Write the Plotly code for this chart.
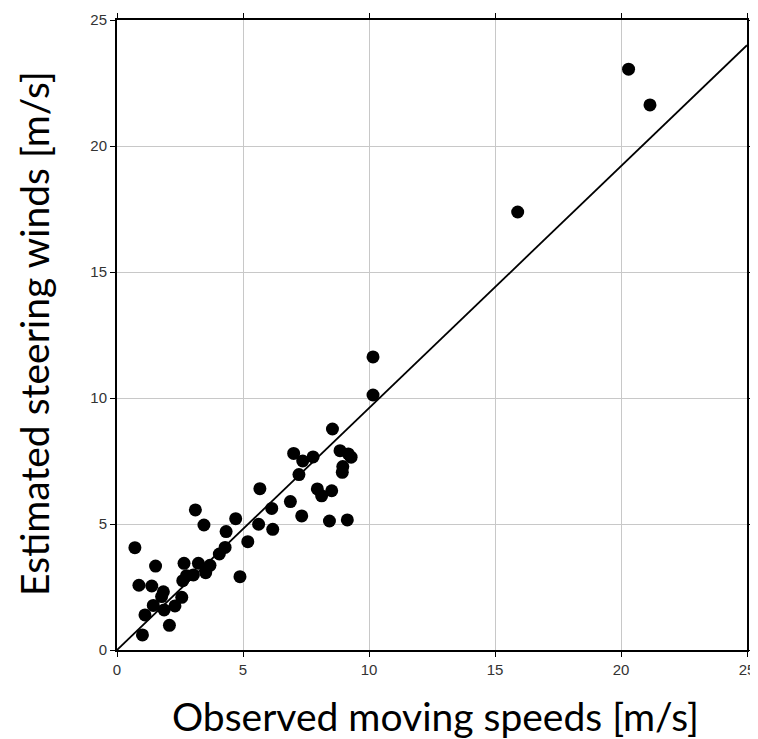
import plotly.graph_objects as go

observed = [0.71, 1.01, 0.87, 1.11, 1.38, 1.53, 1.44, 1.77, 1.84, 1.87, 2.08, 2.30, 2.57, 2.61, 2.66,
            2.76, 3.03, 3.11, 3.23, 3.52, 3.45, 3.69, 4.06, 4.29, 4.33, 4.71, 4.88, 5.19, 5.67, 5.62,
            6.14, 6.18, 6.88, 7.01, 7.33, 7.22, 7.37, 7.78, 7.95, 8.12, 8.52, 8.43, 8.55, 8.85, 8.96,
            8.94, 9.14, 9.18, 9.29, 10.16, 10.16, 15.9, 20.3, 21.15]
estimated = [4.06, 0.60, 2.57, 1.39, 2.54, 3.33, 1.77, 2.12, 2.31, 1.59, 0.98, 1.75, 2.09, 2.75, 3.44,
             2.95, 2.98, 5.56, 3.44, 3.07, 4.96, 3.36, 3.81, 4.07, 4.70, 5.21, 2.91, 4.30, 6.40, 4.99,
             5.62, 4.79, 5.89, 7.80, 5.32, 6.96, 7.50, 7.66, 6.39, 6.12, 6.32, 5.12, 8.77, 7.91, 7.28,
             7.05, 5.16, 7.78, 7.65, 11.63, 10.12, 17.38, 23.05, 21.63]

fit_x = [0, 25]
fit_y = [0, 24.0]

tick_vals = [0, 5, 10, 15, 20, 25]
tick_text = ["0", "5", "10", "15", "20", "25"]

x_title = "Observed moving speeds [m/s]"
y_title = "Estimated steering winds [m/s]"

fig = go.Figure()
fig.add_trace(go.Scatter(x=fit_x, y=fit_y, mode="lines",
                         line=dict(color="black", width=1.8), showlegend=False, hoverinfo="skip"))
fig.add_trace(go.Scatter(x=observed, y=estimated, mode="markers",
                         marker=dict(color="black", size=13), showlegend=False))

axis_common = dict(
    range=[0, 25], tickvals=tick_vals, ticktext=tick_text,
    showgrid=True, gridcolor="#c8c8c8", gridwidth=1,
    showline=True, linecolor="black", linewidth=2, mirror="ticks",
    ticks="outside", ticklen=5, tickcolor="black", tickwidth=1,
    tickfont=dict(family="Liberation Sans, Arial, sans-serif", size=15, color="#333333"),
    zeroline=False, fixedrange=True, automargin=False, ticklabeloverflow="allow",
)

title_font = dict(family="Lato, Carlito, sans-serif", size=39, color="black")

fig.update_layout(
    width=750, height=731,
    margin=dict(l=109, r=11, t=12, b=89),
    paper_bgcolor="white", plot_bgcolor="white",
    xaxis=axis_common,
    yaxis=axis_common,
    annotations=[
        dict(text=x_title, xref="paper", yref="paper", x=0.506, y=-0.1048,
             xanchor="center", yanchor="middle", showarrow=False, font=title_font),
        dict(text=y_title, xref="paper", yref="paper", x=-0.132, y=0.503,
             xanchor="center", yanchor="middle", showarrow=False, font=title_font, textangle=-90),
    ],
)

fig.write_html("out.html", post_script="document.body.style.overflow='hidden';")
